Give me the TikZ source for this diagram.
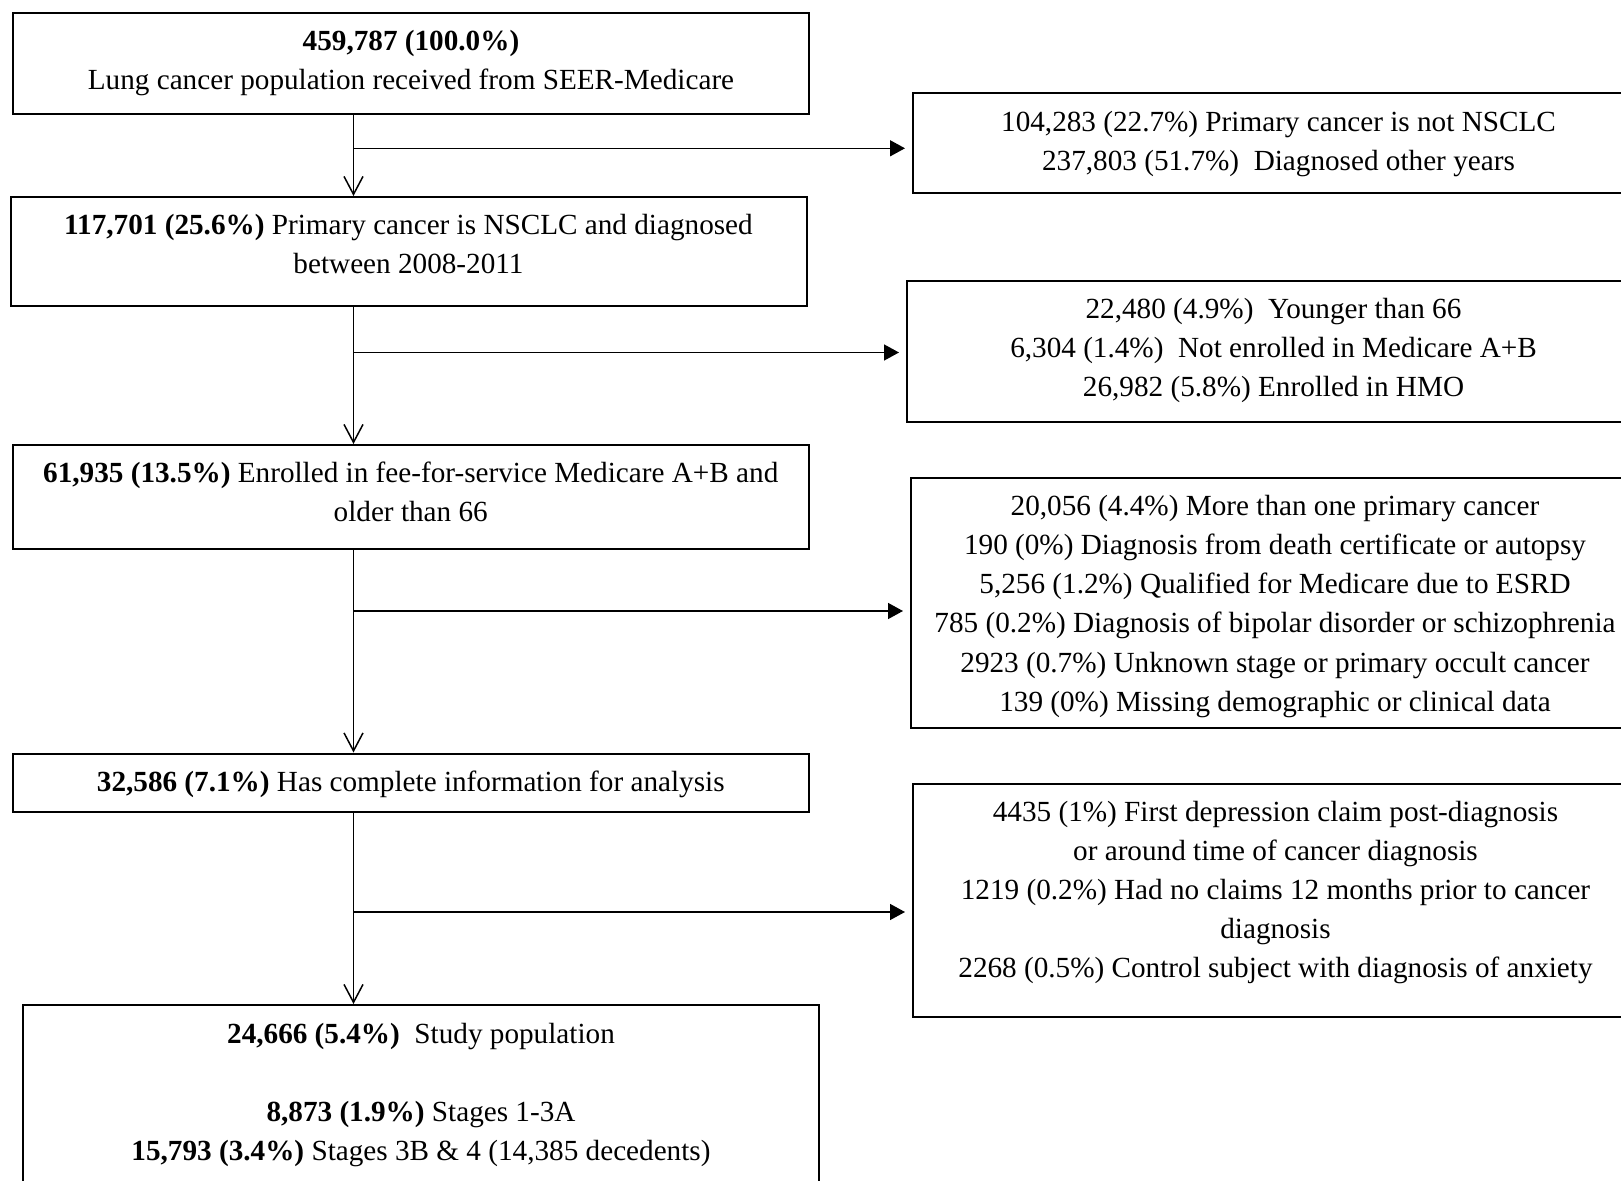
\documentclass[tikz,border=0pt]{standalone}
\usepackage{fontspec}
\setmainfont{Liberation Serif}
\usetikzlibrary{arrows.meta}

% top aligned text inside a framed box (sizes in pixels of the flow chart)
\newcommand{\flowbox}[3]{\parbox[t][\dimexpr#2pt/2\relax][t]{\dimexpr#1pt/2\relax}{\centering\rule{0pt}{19pt}#3}}

\begin{document}
\begin{tikzpicture}[x=0.5pt,y=-0.5pt,
  box/.style={draw,line width=1pt,inner sep=0pt,anchor=north west,
    font=\fontsize{14.6pt}{19.5pt}\selectfont},
  down/.style={line width=0.75pt,-{Straight Barb[length=9pt,width=9.5pt]}},
  side/.style={line width=0.75pt,-{Triangle[length=7.5pt,width=8pt]},shorten >=3.5pt}]
\useasboundingbox (0,0) rectangle (1621,1181);

% included patients
\node[box] (n1) at (12,12) {\flowbox{796}{101.5}{\textbf{459,787 (100.0\%)}\\
  Lung cancer population received from SEER-Medicare}};
\node[box] (n2) at (9.5,196) {\flowbox{796}{109}{\textbf{117,701 (25.6\%)} Primary cancer is NSCLC and diagnosed\\
  between 2008-2011}};
\node[box] (n3) at (11.5,444) {\flowbox{796.5}{103.5}{\textbf{61,935 (13.5\%)} Enrolled in fee-for-service Medicare A+B and\\
  older than 66}};
\node[box] (n4) at (11.5,752.5) {\flowbox{796.5}{58}{\textbf{32,586 (7.1\%)} Has complete information for analysis}};
\node[box] (n5) at (22,1004) {\flowbox{796}{200}{\textbf{24,666 (5.4\%)}~ Study population\\[\baselineskip]
  \textbf{8,873 (1.9\%)} Stages 1-3A\\
  \textbf{15,793 (3.4\%)} Stages 3B \& 4 (14,385 decedents)}};

% excluded patients
\node[box] (x1) at (912,92.5) {\flowbox{731}{99.5}{104,283 (22.7\%) Primary cancer is not NSCLC\\
  237,803 (51.7\%)~ Diagnosed other years}};
\node[box] (x2) at (906,280) {\flowbox{733}{141.5}{22,480 (4.9\%)~ Younger than 66\\
  6,304 (1.4\%)~ Not enrolled in Medicare A+B\\
  26,982 (5.8\%) Enrolled in HMO}};
\node[box] (x3) at (910,477) {\flowbox{728}{250}{20,056 (4.4\%) More than one primary cancer\\
  190 (0\%) Diagnosis from death certificate or autopsy\\
  5,256 (1.2\%) Qualified for Medicare due to ESRD\\
  785 (0.2\%) Diagnosis of bipolar disorder or schizophrenia\\
  2923 (0.7\%) Unknown stage or primary occult cancer\\
  139 (0\%) Missing demographic or clinical data}};
\node[box] (x4) at (912,782.5) {\flowbox{725}{233.5}{4435 (1\%) First depression claim post-diagnosis\\
  or around time of cancer diagnosis\\
  1219 (0.2\%) Had no claims 12 months prior to cancer\\
  diagnosis\\
  2268 (0.5\%) Control subject with diagnosis of anxiety}};

% arrows
\coordinate (spine) at (353.5,0);
\draw[down] (n1.south -| spine) -- (n2.north -| spine);
\draw[down] (n2.south -| spine) -- (n3.north -| spine);
\draw[down] (n3.south -| spine) -- (n4.north -| spine);
\draw[down] (n4.south -| spine) -- (n5.north -| spine);

\coordinate (k1) at (353.5,148.3);
\coordinate (k2) at (353.5,352.5);
\coordinate (k3) at (353.5,611);
\coordinate (k4) at (353.5,912);
\draw[side] (k1) -- (x1.west |- k1);
\draw[side] (k2) -- (x2.west |- k2);
\draw[side] (k3) -- (x3.west |- k3);
\draw[side] (k4) -- (x4.west |- k4);
\end{tikzpicture}
\end{document}
